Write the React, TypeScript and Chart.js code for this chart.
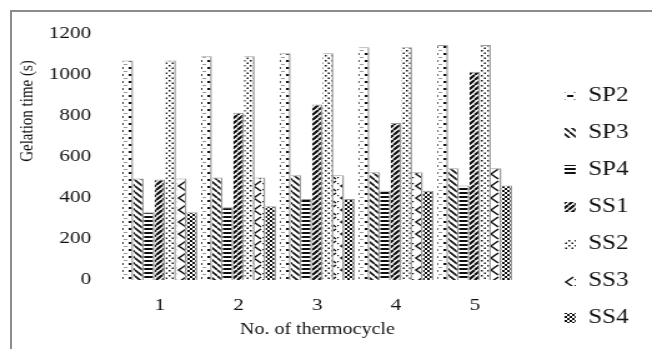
import { useEffect, useRef } from 'react';
import { Chart, registerables } from 'chart.js';

Chart.register(...registerables);

// ---- data ----
const CATEGORIES = ['1', '2', '3', '4', '5'];
const SERIES_NAMES = ['SP2', 'SP3', 'SP4', 'SS1', 'SS2', 'SS3', 'SS4'];
const SP2 = [1070, 1090, 1105, 1135, 1145];
const SP3 = [495, 500, 510, 525, 545];
const SP4 = [330, 355, 395, 435, 460];
const SS1 = [490, 815, 855, 765, 1015];
const SS2 = [1070, 1090, 1105, 1135, 1145];
const SS3 = [495, 500, 510, 525, 545];
const SS4 = [330, 360, 395, 435, 460];
const Y_MIN = 0;
const Y_MAX = 1200;
const Y_STEP = 200;
const X_TITLE = 'No. of thermocycle';
const Y_TITLE = 'Gelation time (s)';

// ---- layout (canvas drawn narrower, stretched horizontally like the source figure) ----
const W = 522;
const H = 349;
const SX = 652 / W;
const FONT = '"Liberation Serif", "Times New Roman", serif';

type Painter = (c: CanvasRenderingContext2D) => void;

function makePattern(w: number, h: number, draw: Painter): CanvasPattern {
  const cv = document.createElement('canvas');
  cv.width = w;
  cv.height = h;
  const c = cv.getContext('2d') as CanvasRenderingContext2D;
  c.fillStyle = '#ffffff';
  c.fillRect(0, 0, w, h);
  c.fillStyle = '#111';
  c.strokeStyle = '#111';
  draw(c);
  return c.createPattern(cv, 'repeat') as CanvasPattern;
}

function buildPatterns(): CanvasPattern[] {
  const sp2 = makePattern(9, 7, (c) => {
    c.fillStyle = '#9a9a9a';
    c.fillRect(0, 1, 3, 1);
    c.fillStyle = '#111';
    c.fillRect(4, 4, 5, 2);
  });
  const sp3 = makePattern(6, 6, (c) => {
    c.lineWidth = 1.6;
    c.beginPath();
    for (const k of [-6, 0, 6]) {
      c.moveTo(k, 0);
      c.lineTo(k + 6, 6);
    }
    c.stroke();
  });
  const sp4 = makePattern(4, 4, (c) => {
    c.fillRect(0, 0, 4, 2);
  });
  const ss1 = makePattern(5, 5, (c) => {
    c.lineWidth = 2.2;
    c.beginPath();
    for (const k of [-5, 0, 5]) {
      c.moveTo(k, 5);
      c.lineTo(k + 5, 0);
    }
    c.stroke();
  });
  const ss2 = makePattern(5, 5, (c) => {
    c.fillRect(0, 0, 1.5, 1.5);
    c.fillRect(2.5, 2.5, 1.5, 1.5);
  });
  const ss3 = makePattern(10, 12, (c) => {
    c.lineWidth = 1.5;
    c.beginPath();
    c.moveTo(9, 1);
    c.lineTo(3, 6);
    c.lineTo(9, 11);
    c.stroke();
    c.fillRect(0, 3, 1.2, 1.2);
    c.fillRect(0, 9, 1.2, 1.2);
  });
  const ss4 = makePattern(4, 4, (c) => {
    c.fillRect(0, 0, 2, 2);
    c.fillRect(2, 2, 2, 2);
  });
  return [sp2, sp3, sp4, ss1, ss2, ss3, ss4];
}

const yTitlePlugin = {
  id: 'yTitleCustom',
  afterDraw(chart: Chart) {
    const ctx = chart.ctx;
    ctx.save();
    ctx.setTransform(1, 0, 0, 1, 0, 0);
    ctx.translate(22.4, 111);
    ctx.rotate(-Math.PI / 2);
    ctx.font = `15px ${FONT}`;
    ctx.fillStyle = '#111';
    ctx.textAlign = 'center';
    ctx.textBaseline = 'middle';
    ctx.fillText(Y_TITLE, 0, 0);
    ctx.restore();
  },
};

export default function App() {
  const ref = useRef<HTMLCanvasElement>(null);

  useEffect(() => {
    const canvas = ref.current;
    if (!canvas) return;
    const patterns = buildPatterns();
    const seriesValues = [SP2, SP3, SP4, SS1, SS2, SS3, SS4];

    const chart = new Chart(canvas, {
      type: 'bar',
      data: {
        labels: CATEGORIES,
        datasets: SERIES_NAMES.map((name, i) => ({
          label: name,
          data: seriesValues[i],
          backgroundColor: patterns[i],
          borderColor: '#9a9a9a',
          borderWidth: { top: 1, right: 1.5, left: 0, bottom: 0 },
          borderSkipped: false,
          categoryPercentage: 0.95,
          barPercentage: 1.0,
          yAxisID: 'y',
        })),
      },
      options: {
        responsive: false,
        animation: false,
        devicePixelRatio: 1,
        layout: { padding: { left: 15.3, right: 8.8, top: 29, bottom: 4 } },
        plugins: {
          tooltip: { enabled: false },
          legend: {
            display: true,
            position: 'right',
            align: 'end',
            labels: {
              font: { family: FONT, size: 20 },
              color: '#111',
              boxWidth: 9,
              boxHeight: 10,
              padding: 17,
              generateLabels: (ch: Chart) =>
                (Chart.defaults.plugins.legend.labels.generateLabels as any)(ch).map((l: any) => ({
                  ...l,
                  lineWidth: 0,
                })),
            },
          },
        },
        scales: {
          x: {
            type: 'category',
            grid: { display: false, drawTicks: false },
            border: { display: false },
            ticks: { font: { family: FONT, size: 17 }, color: '#111', padding: 15.8 },
            title: {
              display: true,
              text: X_TITLE,
              font: { family: FONT, size: 16 },
              color: '#111',
              padding: { top: -11.6, bottom: 5.4 },
            },
          },
          y: {
            type: 'linear',
            position: 'left',
            min: Y_MIN,
            max: Y_MAX,
            grid: { display: false, drawTicks: false },
            border: { display: false },
            ticks: {
              stepSize: Y_STEP,
              font: { family: FONT, size: 17 },
              color: '#111',
              padding: 23.6,
              callback: (v: any) => String(v),
            },
          },
          gap: {
            type: 'linear',
            position: 'right',
            display: true,
            grid: { display: false, drawTicks: false },
            border: { display: false },
            ticks: { display: false },
            afterFit: (s: any) => {
              s.width = 23.3;
            },
          },
        },
      },
      plugins: [yTitlePlugin],
    } as any);

    return () => chart.destroy();
  }, []);

  return (
    <div
      style={{
        position: 'fixed',
        left: 0,
        top: 0,
        width: 652,
        height: 349,
        overflow: 'hidden',
        background: '#fff',
      }}
    >
      <canvas
        ref={ref}
        width={W}
        height={H}
        style={{
          position: 'absolute',
          left: 0,
          top: 0,
          width: W,
          height: H,
          transform: `scaleX(${SX})`,
          transformOrigin: '0 0',
        }}
      />
      <div
        style={{
          position: 'absolute',
          left: 10,
          top: 10,
          width: 700,
          height: 400,
          border: '2px solid #8c8c8c',
          boxSizing: 'border-box',
          pointerEvents: 'none',
        }}
      />
    </div>
  );
}
